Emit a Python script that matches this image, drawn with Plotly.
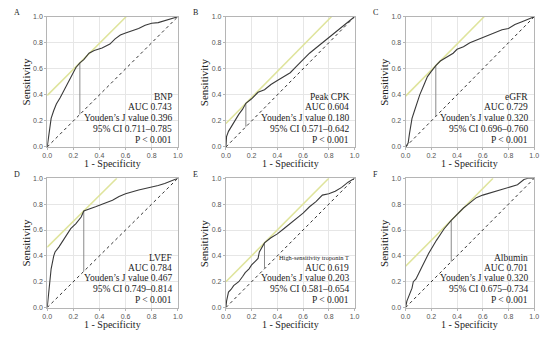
import plotly.graph_objects as go

# ---------------- data ----------------
panel_letters = ["A", "B", "C", "D", "E", "F"]
markers = ["BNP", "Peak CPK", "eGFR", "LVEF", "High-sensitivity troponin T", "Albumin"]
auc_text = ["AUC 0.743", "AUC 0.604", "AUC 0.729", "AUC 0.784", "AUC 0.619", "AUC 0.701"]
youden_text = ["Youden\u2019s J value 0.396", "Youden\u2019s J value 0.180", "Youden\u2019s J value 0.320",
               "Youden\u2019s J value 0.467", "Youden\u2019s J value 0.203", "Youden\u2019s J value 0.320"]
ci_text = ["95% CI 0.711\u20130.785", "95% CI 0.571\u20130.642", "95% CI 0.696\u20130.760",
           "95% CI 0.749\u20130.814", "95% CI 0.581\u20130.654", "95% CI 0.675\u20130.734"]
p_text = ["P < 0.001"] * 6

fpr_A = [0, 0.01, 0.02, 0.03, 0.05, 0.07, 0.10, 0.13, 0.16, 0.20, 0.22, 0.25, 0.28, 0.32, 0.36, 0.42,
         0.48, 0.52, 0.56, 0.60, 0.65, 0.70, 0.75, 0.80, 0.85, 0.90, 0.95, 1.0]
tpr_A = [0, 0.08, 0.15, 0.22, 0.28, 0.33, 0.38, 0.44, 0.50, 0.57, 0.61, 0.646, 0.67, 0.72, 0.74, 0.76,
         0.79, 0.83, 0.86, 0.875, 0.89, 0.91, 0.935, 0.95, 0.955, 0.97, 0.985, 1.0]

fpr_B = [0, 0.005, 0.02, 0.05, 0.08, 0.10, 0.13, 0.155, 0.20, 0.25, 0.30, 0.35, 0.40, 0.45, 0.50,
         0.55, 0.60, 0.65, 0.70, 0.75, 0.80, 0.85, 0.90, 0.95, 0.97, 1.0]
tpr_B = [0, 0.08, 0.12, 0.17, 0.22, 0.25, 0.29, 0.335, 0.37, 0.42, 0.44, 0.48, 0.51, 0.54, 0.57,
         0.62, 0.67, 0.72, 0.76, 0.80, 0.84, 0.88, 0.92, 0.96, 0.98, 1.0]

fpr_C = [0, 0.02, 0.03, 0.04, 0.05, 0.07, 0.09, 0.11, 0.14, 0.17, 0.20, 0.235, 0.27, 0.32, 0.37, 0.40,
         0.45, 0.50, 0.55, 0.60, 0.65, 0.70, 0.75, 0.80, 0.85, 0.90, 0.95, 1.0]
tpr_C = [0, 0.03, 0.10, 0.17, 0.22, 0.28, 0.34, 0.40, 0.47, 0.54, 0.58, 0.625, 0.66, 0.69, 0.72, 0.75,
         0.77, 0.80, 0.82, 0.84, 0.86, 0.88, 0.90, 0.91, 0.94, 0.96, 0.98, 1.0]

fpr_D = [0, 0.01, 0.02, 0.03, 0.05, 0.06, 0.09, 0.12, 0.15, 0.18, 0.22, 0.26, 0.28, 0.32, 0.37, 0.42,
         0.50, 0.55, 0.60, 0.70, 0.80, 0.85, 0.90, 0.95, 1.0]
tpr_D = [0, 0.10, 0.20, 0.30, 0.40, 0.43, 0.47, 0.52, 0.57, 0.61, 0.65, 0.70, 0.747, 0.76, 0.78, 0.80,
         0.83, 0.86, 0.88, 0.91, 0.93, 0.945, 0.96, 0.98, 1.0]

fpr_E = [0, 0.005, 0.02, 0.04, 0.06, 0.10, 0.13, 0.15, 0.18, 0.20, 0.23, 0.25, 0.26, 0.28, 0.30, 0.35,
         0.40, 0.45, 0.50, 0.55, 0.60, 0.65, 0.70, 0.75, 0.80, 0.85, 0.90, 0.95, 1.0]
tpr_E = [0, 0.05, 0.12, 0.14, 0.17, 0.20, 0.24, 0.27, 0.30, 0.33, 0.36, 0.38, 0.43, 0.47, 0.50, 0.54,
         0.57, 0.61, 0.65, 0.69, 0.73, 0.78, 0.82, 0.87, 0.88, 0.90, 0.93, 0.97, 1.0]

fpr_F = [0, 0.01, 0.03, 0.05, 0.06, 0.08, 0.12, 0.18, 0.24, 0.30, 0.355, 0.40, 0.45, 0.50, 0.55,
         0.60, 0.70, 0.80, 0.87, 0.92, 0.95, 1.0]
tpr_F = [0, 0.05, 0.10, 0.15, 0.20, 0.22, 0.30, 0.42, 0.52, 0.61, 0.675, 0.72, 0.77, 0.81, 0.85,
         0.87, 0.90, 0.93, 0.95, 0.99, 1.0, 1.0]

fprs = [fpr_A, fpr_B, fpr_C, fpr_D, fpr_E, fpr_F]
tprs = [tpr_A, tpr_B, tpr_C, tpr_D, tpr_E, tpr_F]

cut_x = [0.25, 0.155, 0.235, 0.28, 0.30, 0.355]
cut_y = [0.646, 0.335, 0.625, 0.747, 0.50, 0.675]

tick_vals = [0, 0.2, 0.4, 0.6, 0.8, 1.0]
tick_text = ["0.0", "0.2", "0.4", "0.6", "0.8", "1.0"]

# ---------------- layout geometry ----------------
W, H = 550, 337
col_px = [(43, 176), (225, 356), (408, 539)]
row_px = [(13, 146), (178, 310)]

fig = go.Figure()
layout = dict(width=W, height=H, margin=dict(l=0, r=0, t=0, b=0),
              paper_bgcolor="white", plot_bgcolor="white", showlegend=False)
annotations = []

serif = "Liberation Serif, Times New Roman, serif"

for i in range(6):
    r, c = divmod(i, 3)
    x0, x1 = col_px[c]
    y0, y1 = row_px[r]
    xd = [x0 / W, x1 / W]
    yd = [(H - y1) / H, (H - y0) / H]
    n = "" if i == 0 else str(i + 1)
    xa, ya = "x" + n, "y" + n
    axcommon = dict(range=[0, 1], tickvals=tick_vals, ticktext=tick_text,
                    tickfont=dict(family="Liberation Sans, Arial", size=7, color="#555"),
                    showgrid=True, gridcolor="#e6e6e6", gridwidth=1,
                    showline=True, linecolor="#b5b5b5", linewidth=1, mirror=True,
                    ticks="outside", ticklen=2, tickcolor="#b5b5b5",
                    zeroline=False, fixedrange=True)
    layout["xaxis" + n] = dict(domain=xd, anchor=ya, **axcommon)
    layout["yaxis" + n] = dict(domain=yd, anchor=xa, **axcommon)

    # diagonal
    fig.add_trace(go.Scatter(x=[0, 1], y=[0, 1], mode="lines", xaxis=xa, yaxis=ya,
                             line=dict(color="#333", width=1, dash="dot")))
    # Youden tangent line (slope 1)
    j = cut_y[i] - cut_x[i]
    fig.add_trace(go.Scatter(x=[0, 1 - j], y=[j, 1], mode="lines", xaxis=xa, yaxis=ya,
                             line=dict(color="#dfe49c", width=1.6)))
    # vertical line from diagonal to cutoff
    fig.add_trace(go.Scatter(x=[cut_x[i], cut_x[i]], y=[cut_x[i], cut_y[i]], mode="lines",
                             xaxis=xa, yaxis=ya, line=dict(color="#8a8a8a", width=1)))
    # ROC curve
    fig.add_trace(go.Scatter(x=fprs[i], y=tprs[i], mode="lines", xaxis=xa, yaxis=ya,
                             line=dict(color="#3a3a3a", width=1.1)))

    # text block
    lines = [markers[i], auc_text[i], youden_text[i], ci_text[i], p_text[i]]
    ys = [0.385, 0.305, 0.225, 0.14, 0.055]
    for k, (t, yy) in enumerate(zip(lines, ys)):
        size = 9.5
        if k == 0 and i == 4:
            size = 6.4
        annotations.append(dict(text=t, x=0.97, y=yy, xref=xa + " domain", yref=ya + " domain",
                                xanchor="right", yanchor="middle", showarrow=False,
                                font=dict(family=serif, size=size, color="#222")))
    # panel letter
    annotations.append(dict(text=panel_letters[i], x=(x0 - 31) / W, y=(H - (y0 - 4)) / H,
                            xref="paper", yref="paper", xanchor="center", yanchor="middle",
                            showarrow=False, font=dict(family=serif, size=8, color="#222")))
    # y title
    annotations.append(dict(text="Sensitivity", x=(x0 - 22) / W, y=(yd[0] + yd[1]) / 2,
                            xref="paper", yref="paper", textangle=-90, xanchor="center",
                            yanchor="middle", showarrow=False,
                            font=dict(family=serif, size=11, color="#222")))
    # x title
    annotations.append(dict(text="1 - Specificity", x=(x0 + x1) / 2 / W, y=(H - (y1 + 17)) / H,
                            xref="paper", yref="paper", xanchor="center", yanchor="middle",
                            showarrow=False, font=dict(family=serif, size=10, color="#222")))

layout["annotations"] = annotations
fig.update_layout(**layout)
fig.write_html("out.html", config={"displayModeBar": False},
               post_script="document.body.style.margin='0';document.body.style.overflow='hidden';")
